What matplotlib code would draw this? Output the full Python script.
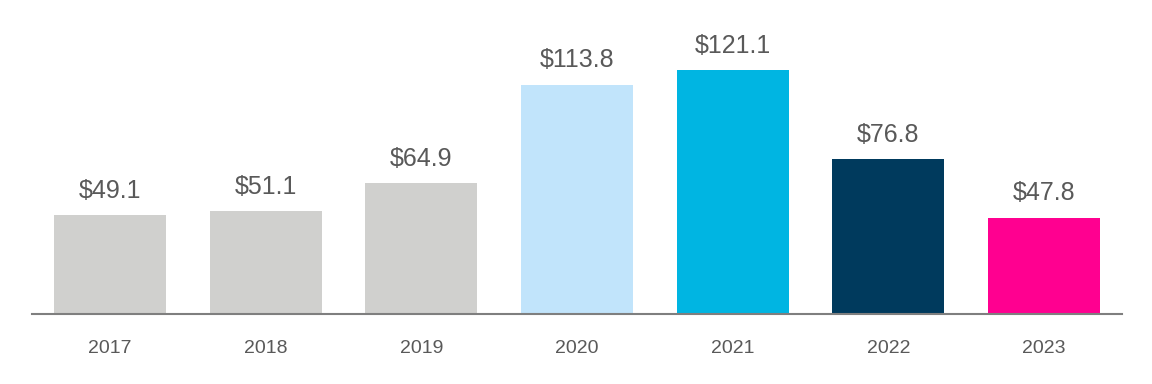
import matplotlib.pyplot as plt

years = ['2017', '2018', '2019', '2020', '2021', '2022', '2023']
values = [49.1, 51.1, 64.9, 113.8, 121.1, 76.8, 47.8]
colors = ['#D0D0CE', '#D0D0CE', '#D0D0CE', '#C1E4FB', '#00B5E2', '#003A5D', '#FF0090']

plt.rcParams['font.family'] = ['Liberation Sans', 'DejaVu Sans']

fig = plt.figure(figsize=(11.52, 3.84), dpi=100)
ax = fig.add_axes([32 / 1152, 1 - 314 / 384, 1090 / 1152, 314 / 384])

x = range(len(years))
bars = ax.bar(x, values, width=0.72, color=colors)

for b, v in zip(bars, values):
    ax.annotate('${:.1f}'.format(v), (b.get_x() + b.get_width() / 2, v),
                xytext=(0, 9), textcoords='offset points', ha='center', va='bottom',
                fontsize=18, color='#595959')

ax.set_xlim(-0.5, 6.5)
ax.set_ylim(0, 156)
ax.set_xticks(list(x))
ax.set_xticklabels(years, fontsize=14, color='#595959')
ax.tick_params(axis='x', length=0, pad=19)
ax.set_yticks([])
for s in ['top', 'right', 'left']:
    ax.spines[s].set_visible(False)
ax.spines['bottom'].set_color('#7F7F7F')
ax.spines['bottom'].set_linewidth(1.5)

plt.savefig('out.png', dpi=100)
plt.close()
